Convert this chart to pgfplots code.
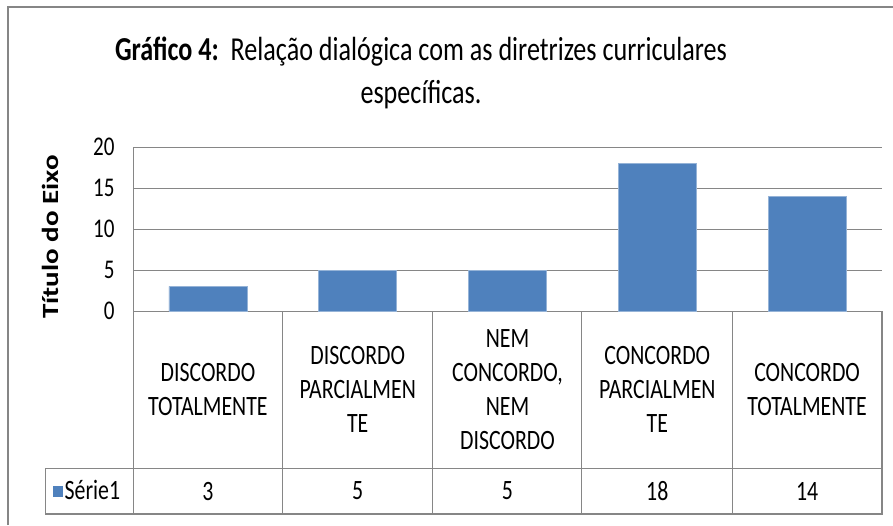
\documentclass[border=0pt]{standalone}
\usepackage{pgfplots}
\pgfplotsset{compat=1.18}
\usepackage{fontspec}
\setmainfont{Carlito}[FakeStretch=0.78]
\newfontfamily\labelfont{Carlito}
\definecolor{barblue}{HTML}{4F81BD}
\definecolor{gridgray}{HTML}{868686}
\begin{document}
\begin{tikzpicture}
\useasboundingbox (0,0) rectangle (893pt,-525pt);
\draw[gridgray, line width=2pt] (8pt,-525pt) -- (8pt,-7pt) -- (893pt,-7pt);
\node[align=center, font=\fontsize{33.5}{43}\selectfont] at (421pt,-73pt)
  {\textbf{Gráfico 4:}\ \ Relação dialógica com as diretrizes curriculares\\específicas.};
\begin{axis}[
  at={(133pt,-311pt)}, anchor=south west,
  scale only axis, width=749pt, height=164pt,
  xmin=-0.5, xmax=4.5, ymin=0, ymax=20,
  ytick={0,5,10,15,20},
  xtick={0,1,2,3,4},
  xticklabels={{DISCORDO\\TOTALMENTE},{DISCORDO\\PARCIALMEN\\TE},{NEM\\CONCORDO,\\NEM\\DISCORDO},{CONCORDO\\PARCIALMEN\\TE},{CONCORDO\\TOTALMENTE}},
  extra x ticks={0,1,2,3,4},
  extra x tick labels={3,5,5,18,14},
  extra x tick style={xticklabel style={yshift=-101.5pt}},
  xticklabel style={anchor=center, yshift=-78.5pt, text width=145pt, align=center, font=\fontsize{28}{34}\selectfont},
  axis x line*=bottom, axis y line*=left,
  axis line style={gridgray, line width=1pt, -},
  ymajorgrids, grid style={gridgray, line width=1pt},
  major tick length=0pt,
  yticklabel style={font=\fontsize{27}{30}\selectfont, xshift=-15pt},
  /pgf/number format/assume math mode=true,
  ylabel={\scalebox{1}[0.8]{\labelfont\bfseries\fontsize{29}{30}\selectfont Título do Eixo}},
  ylabel style={at={(axis description cs:-0.1108,0.451)}, anchor=center, rotate=0},
  bar width=0.52,
  legend style={at={(axis description cs:-0.107,-1.0976)}, anchor=west, draw=none, fill=none, font=\fontsize{28}{30}\selectfont, inner sep=0pt},
  legend image code/.code={\fill[barblue] (0pt,-5pt) rectangle (9pt,5pt);},
]
\addplot[ybar, fill=barblue, draw=barblue!60!white, line width=0.6pt] coordinates {(0,3) (1,5) (2,5) (3,18) (4,14)};
\legend{Série1}
\end{axis}
\draw[gridgray, line width=1pt] (133pt,-311pt) -- (133pt,-514pt)
  (282pt,-311pt) -- (282pt,-514pt)
  (432pt,-311pt) -- (432pt,-514pt)
  (581pt,-311pt) -- (581pt,-514pt)
  (732pt,-311pt) -- (732pt,-514pt)
  (45pt,-468pt) -- (882pt,-468pt)
  (45pt,-468pt) -- (45pt,-514pt);
\draw[gridgray, line width=1.6pt] (882pt,-311pt) -- (882pt,-514pt) -- (45pt,-514pt);
\end{tikzpicture}
\end{document}
